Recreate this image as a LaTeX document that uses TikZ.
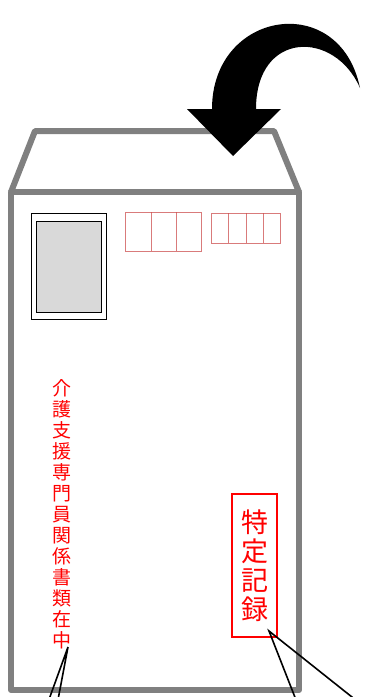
\documentclass[tikz,border=0pt]{standalone}
\usepackage{fontspec}
\newfontfamily\cjk{Noto Sans CJK JP}
\definecolor{envgray}{RGB}{128,128,128}
\definecolor{stampgray}{RGB}{217,217,217}
\definecolor{zipred}{RGB}{205,80,80}
\definecolor{txtred}{RGB}{255,0,0}
\tikzset{
  envline/.style={draw=envgray, line width=6pt, line join=round},
  zipbox/.style={draw=zipred, line width=1pt, opacity=0.75},
  callout/.style={draw=black, line width=1.6pt},
}
\begin{document}
\begin{tikzpicture}[x=1pt,y=-1pt]
\useasboundingbox (0,0) rectangle (366,697);
\clip (0,0) rectangle (366,697);
% envelope
\draw[envline, fill=white] (11,192) -- (35,131) -- (274,131) -- (299,192);
\draw[envline, fill=white] (11,192) rectangle (299,690);
% stamp
\node[draw=black, line width=0.8pt, fill=white, minimum width=75pt, minimum height=106pt, inner sep=0] (stamp) at (68.5,266) {};
\node[draw=black, line width=0.8pt, fill=stampgray, minimum width=65pt, minimum height=91pt, inner sep=0] (stampin) at (68.5,266.5) {};
% zip boxes
\draw[zipbox] (125,212) rectangle (201,251);
\draw[zipbox] (151,212) -- (151,251) (176,212) -- (176,251);
\draw[zipbox] (211,213) rectangle (280,243);
\draw[zipbox] (228,213) -- (228,243) (246,213) -- (246,243) (263,213) -- (263,243);
% curved arrow
\fill[black] (187,109) -- (233,156) -- (281,109) -- (256,109)
  .. controls (256,30) and (335,30) .. (360,88)
  .. controls (340,-10) and (212,10) .. (212,109) -- cycle;
% vertical texts
\node[text=txtred, align=center, inner sep=0, font=\cjk\fontsize{19}{21}\selectfont] (vt) at (62,514)
  {介\\護\\支\\援\\専\\門\\員\\関\\係\\書\\類\\在\\中};
\node[draw=txtred, line width=2pt, text=txtred, align=center, minimum width=45pt, minimum height=143pt, inner sep=0, font=\cjk\fontsize{27}{29}\selectfont] (tk) at (254.5,565.5)
  {特\\定\\記\\録};
% callout pointers
\coordinate (p1) at (68,647);
\coordinate (a1) at (47,705);
\coordinate (b1) at (57,705);
\coordinate (p2) at (269,631);
\coordinate (a2) at (298,705);
\coordinate (b2) at (362,705);
\draw[callout] (a1) -- (p1) -- (b1);
\draw[callout] (a2) -- (p2) -- (b2);
\end{tikzpicture}
\end{document}
